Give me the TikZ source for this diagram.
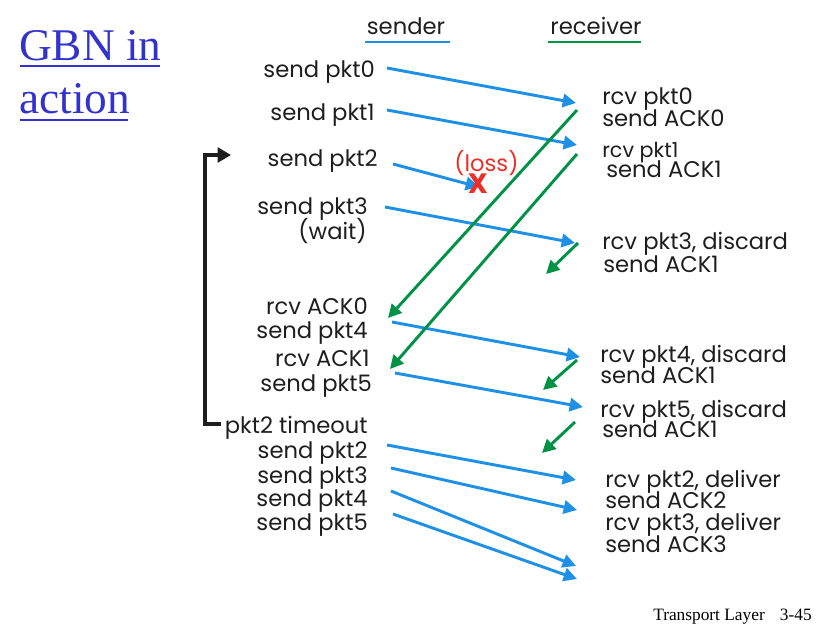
\documentclass[tikz,border=0pt]{standalone}
\usepackage{fontspec}
\setmainfont{Poppins}
\newfontfamily\timesf{Liberation Serif}
\usetikzlibrary{arrows.meta}
\definecolor{pblue}{RGB}{30,144,230}
\definecolor{pgreen}{RGB}{0,146,69}
\definecolor{tblue}{RGB}{51,51,204}
\definecolor{lred}{RGB}{232,48,40}
\definecolor{ink}{RGB}{30,30,30}
\tikzset{
  lbl/.style={inner sep=0pt,font=\fontsize{17}{20}\selectfont,text=ink},
  le/.style={lbl,anchor=base east},
  lw/.style={lbl,anchor=base west},
  tip/.style={-{Triangle[length=10pt,width=10pt]}},
  barr/.style={draw=pblue,line width=2.2pt,tip},
  garr/.style={draw=pgreen,line width=2.2pt,tip},
}
\begin{document}
\begin{tikzpicture}[x=0.75pt,y=-0.75pt]
\useasboundingbox (0,0) rectangle (827,630);
% title
\node[inner sep=0pt,anchor=base west,text=tblue,font=\timesf\fontsize{34}{40}\selectfont] (t1) at (19,61) {GBN in};
\node[inner sep=0pt,anchor=base west,text=tblue,font=\timesf\fontsize{34}{40}\selectfont] (t2) at (19,114) {action};
\draw[tblue,line width=2.2pt] (20,66) -- (160,66);
\draw[tblue,line width=2.2pt] (20,120) -- (128,120);
% headers
\node[lbl,anchor=base] (snd) at (406,35) {sender};
\node[lbl,anchor=base] (rcv) at (596,35) {receiver};
\draw[pblue,line width=2.2pt] (365,42) -- (450,42);
\draw[pgreen,line width=2.2pt] (548,42) -- (641,42);
% sender labels
\node[le] (s0) at (375,78) {send pkt0};
\node[le] (s1) at (375,121) {send pkt1};
\node[le] (s2) at (378,167) {send pkt2};
\node[le] (s3) at (368,215) {send pkt3};
\node[le] (w3) at (367,240) {(wait)};
\node[le] (a0) at (368,315) {rcv ACK0};
\node[le] (s4) at (368,339) {send pkt4};
\node[le] (a1) at (370,367) {rcv ACK1};
\node[le] (s5) at (372,392) {send pkt5};
\node[le] (to) at (368,433) {pkt2 timeout};
\node[le] (r2) at (368,458) {send pkt2};
\node[le] (r3) at (368,483) {send pkt3};
\node[le] (r4) at (368,506) {send pkt4};
\node[le] (r5) at (368,530) {send pkt5};
% receiver labels
\node[lw] (p0) at (602,105) {rcv pkt0};
\node[lw] (k0) at (602,127) {send ACK0};
\node[lw,font=\fontsize{15.5}{18}\selectfont] (p1) at (602,158) {rcv pkt1};
\node[lw] (k1) at (606,178) {send ACK1};
\node[lw] (p3) at (602,250) {rcv pkt3, discard};
\node[lw] (k1b) at (603,273) {send ACK1};
\node[lw] (p4) at (600,363) {rcv pkt4, discard};
\node[lw] (k1c) at (600,383) {send ACK1};
\node[lw] (p5) at (600,417) {rcv pkt5, discard};
\node[lw] (k1d) at (602,437) {send ACK1};
\node[lw] (d2) at (605,487) {rcv pkt2, deliver};
\node[lw] (k2) at (605,508) {send ACK2};
\node[lw] (d3) at (605,530) {rcv pkt3, deliver};
\node[lw] (k3) at (605,552) {send ACK3};
% loss label
\node[lbl,anchor=base west,text=lred] (loss) at (454,172) {(loss)};
% coordinates of arrow ends
\coordinate (b1a) at (387,68);  \coordinate (b1b) at (576,103);
\coordinate (b2a) at (387,110); \coordinate (b2b) at (577,145);
\coordinate (b3a) at (393,164); \coordinate (b3b) at (479,187);
\coordinate (b4a) at (385,207); \coordinate (b4b) at (575,243);
\coordinate (b5a) at (392,322); \coordinate (b5b) at (580,357);
\coordinate (b6a) at (395,373); \coordinate (b6b) at (583,407);
\coordinate (b7a) at (387,445); \coordinate (b7b) at (576,480);
\coordinate (b8a) at (391,468); \coordinate (b8b) at (577,510);
\coordinate (b9a) at (391,491); \coordinate (b9b) at (576,566);
\coordinate (b10a) at (393,514); \coordinate (b10b) at (577,579);
\coordinate (g1a) at (577,110); \coordinate (g1b) at (388,318);
\coordinate (g2a) at (577,154); \coordinate (g2b) at (390,369);
\coordinate (g3a) at (578,243); \coordinate (g3b) at (546,274);
\coordinate (g4a) at (577,360); \coordinate (g4b) at (543,390);
\coordinate (g5a) at (575,422); \coordinate (g5b) at (542,453);
\foreach \i in {1,...,10} \draw[barr] (b\i a) -- (b\i b);
\foreach \i in {1,...,5} \draw[garr] (g\i a) -- (g\i b);
% loss mark on top
\node[inner sep=0pt,text=lred,font=\bfseries\fontsize{21}{24}\selectfont] (x) at (478,184) {X};
% timeout bracket
\coordinate (brA) at (221,424);
\coordinate (brB) at (231,155);
\draw[ink,line width=3pt,-{Triangle[length=10pt,width=11pt]}] (brA) -- (205,424) -- (205,155) -- (brB);
% footer
\node[inner sep=0pt,anchor=base west,font=\timesf\fontsize{13}{15}\selectfont] (ft) at (653,620) {Transport Layer};
\node[inner sep=0pt,anchor=base east,font=\timesf\fontsize{13}{15}\selectfont] (pg) at (812,620) {3-45};
\end{tikzpicture}
\end{document}
